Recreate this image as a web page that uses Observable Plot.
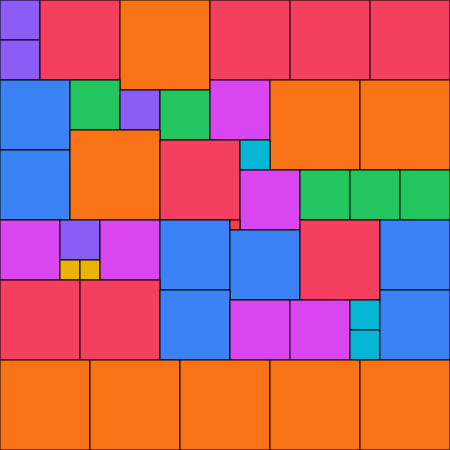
<!DOCTYPE html>
<html>
<head>
<meta charset="utf-8">
<script src="https://cdn.jsdelivr.net/npm/d3@7"></script>
<script src="https://cdn.jsdelivr.net/npm/@observablehq/plot@0.6"></script>
<style>
  html, body { margin: 0; padding: 0; background: #fff; }
</style>
</head>
<body>
<div id="chart"></div>
<script>
const xs =    [0, 0, 40, 120, 210, 290, 370, 0, 70, 120, 160, 210, 270, 360, 0, 70, 160, 240, 240, 300, 350, 400, 0, 60, 60, 80, 100, 160, 230, 230, 300, 380, 0, 80, 160, 230, 290, 350, 350, 380, 0, 90, 180, 270, 360];
const ys =    [0, 40, 0, 0, 0, 0, 0, 80, 80, 90, 90, 80, 80, 80, 150, 130, 140, 140, 170, 170, 170, 170, 220, 220, 260, 260, 220, 220, 220, 230, 220, 220, 280, 280, 290, 300, 300, 300, 330, 290, 360, 360, 360, 360, 360];
const sizes = [40, 40, 80, 90, 80, 80, 80, 70, 50, 40, 50, 60, 90, 90, 70, 90, 80, 30, 60, 50, 50, 50, 60, 40, 20, 20, 60, 70, 10, 70, 80, 70, 80, 80, 70, 60, 60, 30, 30, 70, 90, 90, 90, 90, 90];

const sizeDomain = [10, 20, 30, 40, 50, 60, 70, 80, 90];
const sizeColors = ["#ef4444", "#eab308", "#06b6d4", "#8b5cf6", "#22c55e", "#d946ef", "#3b82f6", "#f43f5e", "#f97316"];

const data = xs.map((x, i) => ({x1: x, y1: ys[i], x2: x + sizes[i], y2: ys[i] + sizes[i], size: sizes[i]}));

const chart = Plot.plot({
  width: 450,
  height: 450,
  margin: 0,
  x: {domain: [0, 450], range: [0, 450], axis: null},
  y: {domain: [0, 450], range: [0, 450], axis: null},
  color: {type: "ordinal", domain: sizeDomain, range: sizeColors},
  marks: [
    Plot.rect(data, {x1: "x1", x2: "x2", y1: "y1", y2: "y2", fill: "size", stroke: "black", strokeWidth: 1, inset: 0})
  ]
});
document.getElementById("chart").appendChild(chart);
</script>
</body>
</html>
